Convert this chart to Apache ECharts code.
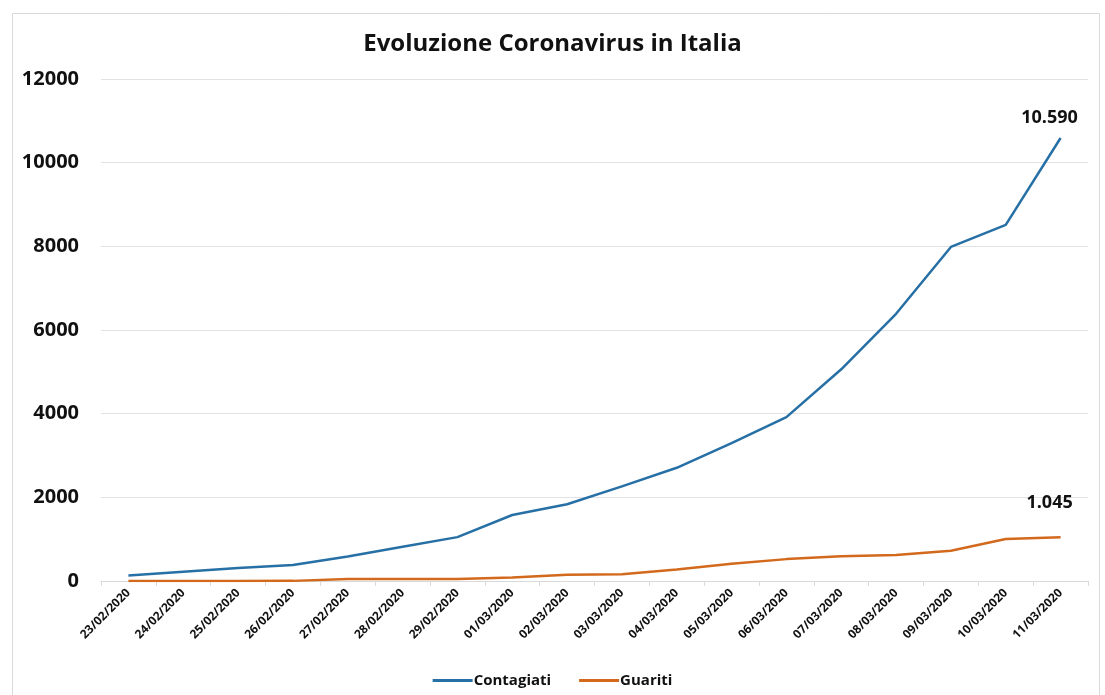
<!DOCTYPE html>
<html>
<head>
<meta charset="utf-8">
<script src="https://cdn.jsdelivr.net/npm/echarts@6/dist/echarts.min.js"></script>
<style>
  html, body { margin: 0; padding: 0; background: #ffffff; }
  #chart { width: 1105px; height: 695px; }
</style>
</head>
<body>
<div id="chart"></div>
<script>
// Daily dates (Feb 23 – Mar 11, 2020)
const dates = [
  '23/02/2020', '24/02/2020', '25/02/2020', '26/02/2020', '27/02/2020', '28/02/2020',
  '29/02/2020', '01/03/2020', '02/03/2020', '03/03/2020', '04/03/2020', '05/03/2020',
  '06/03/2020', '07/03/2020', '08/03/2020', '09/03/2020', '10/03/2020', '11/03/2020'
];
// Currently infected
const contagiati = [132, 221, 311, 385, 588, 821, 1049, 1577, 1835, 2263, 2706, 3296, 3916, 5061, 6387, 7985, 8514, 10590];
// Recovered
const guariti = [1, 1, 1, 3, 45, 46, 50, 83, 149, 160, 276, 414, 523, 589, 622, 724, 1004, 1045];
const yTicks = [0, 2000, 4000, 6000, 8000, 10000, 12000];

const FONT = '"Open Sans", "DejaVu Sans", sans-serif';
const BLUE = '#2770a6';
const ORANGE = '#d2691c';

// Italian thousands separator
const itNum = v => String(v).replace(/\B(?=(\d{3})+(?!\d))/g, '.');

// Only the last point of each series carries a value label
function withEndLabel(values, offsetY) {
  return values.map((v, i) => i === values.length - 1
    ? { value: v, label: { show: true, position: 'top', offset: [-11, offsetY],
        formatter: p => itNum(p.value), fontFamily: FONT, fontWeight: 'bold',
        fontSize: 18, color: '#111' } }
    : v);
}

const chart = echarts.init(document.getElementById('chart'), null, { renderer: 'canvas' });
chart.setOption({
  animation: false,
  backgroundColor: '#ffffff',
  title: {
    text: 'Evoluzione Coronavirus in Italia',
    left: 'center', top: 27,
    textStyle: { fontFamily: FONT, fontWeight: 'bold', fontSize: 24, color: '#111' }
  },
  graphic: [{
    type: 'rect', left: 10, top: 11, silent: true,
    shape: { width: 1087, height: 690 },
    style: { fill: 'none', stroke: '#d9d9d9', lineWidth: 1 }
  }],
  legend: {
    bottom: 2, left: 'center', itemGap: 28,
    itemWidth: 40, itemHeight: 3,
    data: [
      { name: 'Contagiati', icon: 'rect' },
      { name: 'Guariti', icon: 'rect' }
    ],
    textStyle: { fontFamily: FONT, fontWeight: 'bold', fontSize: 15, color: '#111', padding: [0, 0, 0, -4] }
  },
  grid: { left: 101, right: 17, top: 79, bottom: 114 },
  xAxis: {
    type: 'category',
    data: dates,
    boundaryGap: true,
    axisLine: { lineStyle: { color: '#d9d9d9', width: 1 } },
    axisTick: { show: true, length: 5, lineStyle: { color: '#d9d9d9' } },
    axisLabel: {
      rotate: 45, interval: 0, margin: 10,
      fontFamily: FONT, fontWeight: 'bold', fontSize: 12, color: '#111'
    }
  },
  yAxis: {
    type: 'value',
    min: yTicks[0], max: yTicks[yTicks.length - 1], interval: 2000,
    axisLine: { show: false },
    axisTick: { show: false },
    splitLine: { lineStyle: { color: '#e2e2e2', width: 1 } },
    axisLabel: {
      margin: 22, fontFamily: FONT, fontWeight: 'bold', fontSize: 20, color: '#111',
      formatter: v => String(v)
    }
  },
  series: [
    {
      name: 'Contagiati', type: 'line', data: withEndLabel(contagiati, -6),
      symbol: 'circle', symbolSize: 0, showSymbol: true,
      lineStyle: { color: BLUE, width: 2.5 }, itemStyle: { color: BLUE }
    },
    {
      name: 'Guariti', type: 'line', data: withEndLabel(guariti, -20),
      symbol: 'circle', symbolSize: 0, showSymbol: true,
      lineStyle: { color: ORANGE, width: 2.5 }, itemStyle: { color: ORANGE }
    }
  ]
});
</script>
</body>
</html>
